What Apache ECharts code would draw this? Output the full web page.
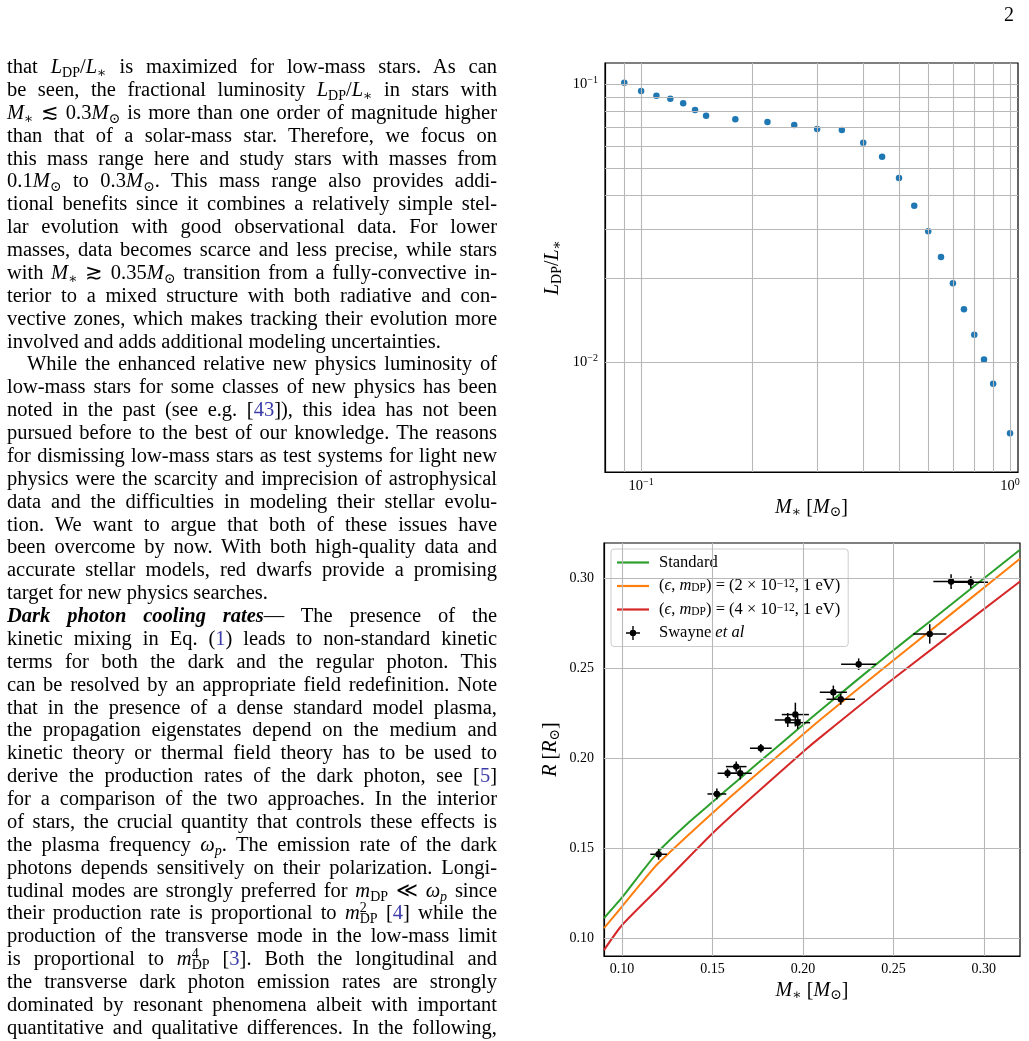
<!DOCTYPE html>
<html>
<head>
<meta charset="utf-8">
<script src="https://cdn.jsdelivr.net/npm/echarts@6/dist/echarts.min.js"></script>
<style>
  html, body { margin:0; padding:0; background:#fff; }
  body { width:1029px; height:1041px; position:relative; overflow:hidden; }
  #chart { position:absolute; left:0; top:0; width:1029px; height:1041px; }
  .col { position:absolute; left:7px; top:55px; width:490px; font-family:'Liberation Serif', 'DejaVu Serif', serif; font-size:20.5px; line-height:22.88px; color:#000; }
  .l { height:22.88px; text-align:justify; text-align-last:justify; white-space:nowrap; }
  .l.last { text-align:left; text-align-last:left; }
  .l.ind { text-indent:20px; }
  sub { font-size:14px; vertical-align:-4px; line-height:0; font-style:normal; }
  sup { font-size:14px; vertical-align:7px; line-height:0; font-style:normal; }
  .ref { color:#3b3ba8; }
  .pg { position:absolute; left:1004px; top:3px; font-family:'Liberation Serif', serif; font-size:20px; }
</style>
</head>
<body>
<div id="chart"></div>
<div class="pg">2</div>
<div class="col">
<div class="l">that <i>L</i><sub>DP</sub>/<i>L</i><sub>∗</sub> is maximized for low-mass stars. As can</div>
<div class="l">be seen, the fractional luminosity <i>L</i><sub>DP</sub>/<i>L</i><sub>∗</sub> in stars with</div>
<div class="l"><i>M</i><sub>∗</sub> ≲ 0.3<i>M</i><sub>⊙</sub> is more than one order of magnitude higher</div>
<div class="l">than that of a solar-mass star. Therefore, we focus on</div>
<div class="l">this mass range here and study stars with masses from</div>
<div class="l">0.1<i>M</i><sub>⊙</sub> to 0.3<i>M</i><sub>⊙</sub>. This mass range also provides addi-</div>
<div class="l">tional benefits since it combines a relatively simple stel-</div>
<div class="l">lar evolution with good observational data. For lower</div>
<div class="l">masses, data becomes scarce and less precise, while stars</div>
<div class="l">with <i>M</i><sub>∗</sub> ≳ 0.35<i>M</i><sub>⊙</sub> transition from a fully-convective in-</div>
<div class="l">terior to a mixed structure with both radiative and con-</div>
<div class="l">vective zones, which makes tracking their evolution more</div>
<div class="l last">involved and adds additional modeling uncertainties.</div>
<div class="l ind">While the enhanced relative new physics luminosity of</div>
<div class="l">low-mass stars for some classes of new physics has been</div>
<div class="l">noted in the past (see e.g. [<span class="ref">43</span>]), this idea has not been</div>
<div class="l">pursued before to the best of our knowledge. The reasons</div>
<div class="l">for dismissing low-mass stars as test systems for light new</div>
<div class="l">physics were the scarcity and imprecision of astrophysical</div>
<div class="l">data and the difficulties in modeling their stellar evolu-</div>
<div class="l">tion. We want to argue that both of these issues have</div>
<div class="l">been overcome by now. With both high-quality data and</div>
<div class="l">accurate stellar models, red dwarfs provide a promising</div>
<div class="l last">target for new physics searches.</div>
<div class="l"><b><i>Dark photon cooling rates</i></b>— The presence of the</div>
<div class="l">kinetic mixing in Eq. (<span class="ref">1</span>) leads to non-standard kinetic</div>
<div class="l">terms for both the dark and the regular photon. This</div>
<div class="l">can be resolved by an appropriate field redefinition. Note</div>
<div class="l">that in the presence of a dense standard model plasma,</div>
<div class="l">the propagation eigenstates depend on the medium and</div>
<div class="l">kinetic theory or thermal field theory has to be used to</div>
<div class="l">derive the production rates of the dark photon, see [<span class="ref">5</span>]</div>
<div class="l">for a comparison of the two approaches. In the interior</div>
<div class="l">of stars, the crucial quantity that controls these effects is</div>
<div class="l">the plasma frequency <i>ω</i><sub><i>p</i></sub>. The emission rate of the dark</div>
<div class="l">photons depends sensitively on their polarization. Longi-</div>
<div class="l">tudinal modes are strongly preferred for <i>m</i><sub>DP</sub> ≪ <i>ω</i><sub><i>p</i></sub> since</div>
<div class="l">their production rate is proportional to <i>m</i><sup>2</sup><sub style="margin-left:-7px">DP</sub> [<span class="ref">4</span>] while the</div>
<div class="l">production of the transverse mode in the low-mass limit</div>
<div class="l">is proportional to <i>m</i><sup>4</sup><sub style="margin-left:-7px">DP</sub> [<span class="ref">3</span>]. Both the longitudinal and</div>
<div class="l">the transverse dark photon emission rates are strongly</div>
<div class="l">dominated by resonant phenomena albeit with important</div>
<div class="l">quantitative and qualitative differences. In the following,</div>
</div>
<script>
// ---------- Top panel: fractional dark-photon luminosity ----------
const lumMass  = [0.09,0.10,0.11,0.12,0.13,0.14,0.15,0.18,0.22,0.26,0.30,0.35,0.40,0.45,0.50,0.55,0.60,0.65,0.70,0.75,0.80,0.85,0.90,1.00];
const lumRatio = [0.1013,0.0946,0.0910,0.0887,0.0854,0.0808,0.0771,0.0748,0.0732,0.0714,0.0690,0.0685,0.0616,0.0548,0.0460,0.0365,0.0296,0.0239,0.0192,0.0155,0.01254,0.01022,0.00835,0.00554];
const topXGrid = [0.09,0.1,0.2,0.3,0.4,0.5,0.6,0.7,0.8,0.9,1.0];
const topYGrid = [0.005,0.006,0.007,0.008,0.009,0.01,0.02,0.03,0.04,0.05,0.06,0.07,0.08,0.09,0.1];

// ---------- Bottom panel: mass-radius ----------
const stdMass   = [0.09,0.10,0.11,0.12,0.135,0.15,0.165,0.185,0.21,0.248,0.27,0.32];
const stdRadius = [0.111,0.1225,0.1355,0.148,0.1625,0.1755,0.1885,0.2055,0.2268,0.2582,0.2757,0.3157];
const dp2Mass   = [0.09,0.10,0.11,0.12,0.158,0.19,0.2094,0.248,0.32];
const dp2Radius = [0.1055,0.1175,0.1298,0.1415,0.1767,0.2044,0.2211,0.2526,0.3106];
const dp4Mass   = [0.09,0.10,0.12,0.15,0.17,0.2012,0.2094,0.248,0.32];
const dp4Radius = [0.0933,0.1072,0.1275,0.1582,0.1767,0.2044,0.2113,0.2425,0.298];
const swayneMass      = [0.2819,0.2928,0.2701,0.2308,0.2168,0.2209,0.1958,0.1916,0.1971,0.1767,0.1631,0.1583,0.1653,0.1524,0.1202];
const swayneMassErr   = [0.0098,0.0095,0.0092,0.0097,0.0075,0.0079,0.0075,0.0072,0.0069,0.0060,0.0057,0.0055,0.0064,0.0052,0.0046];
const swayneRadius    = [0.2980,0.2976,0.2689,0.2521,0.2365,0.2326,0.2241,0.2211,0.2196,0.2054,0.1952,0.1915,0.1915,0.1800,0.1465];
const swayneRadiusErr = [0.0041,0.0033,0.0054,0.0032,0.0037,0.0030,0.0066,0.0039,0.0035,0.0024,0.0028,0.0026,0.0034,0.0030,0.0030];
const botTicks = [0.10,0.15,0.20,0.25,0.30];

const FONT = "'Liberation Serif', 'DejaVu Serif', serif";
const GRIDCOL = '#b8b8b8';
const pairs = (xs, ys) => xs.map((x, i) => [x, ys[i]]);

const nameRich = {
  i: { fontFamily: FONT, fontSize: 20, fontStyle: 'italic', lineHeight: 22, verticalAlign: 'middle', color: '#000' },
  t: { fontFamily: FONT, fontSize: 20, lineHeight: 22, verticalAlign: 'middle', color: '#000' },
  s: { fontFamily: FONT, fontSize: 14, lineHeight: 10, verticalAlign: 'bottom', color: '#000' }
};
const powRich = {
  b: { fontFamily: FONT, fontSize: 14.5, lineHeight: 18, verticalAlign: 'middle', color: '#000' },
  e: { fontFamily: FONT, fontSize: 10, lineHeight: 9, verticalAlign: 'top', color: '#000' }
};
const powFmt = v => { const e = Math.round(Math.log10(v)); return '{b|10}{e|' + (e < 0 ? '\u2212' : '') + Math.abs(e) + '}'; };

function gridLines(xs, ys) {
  return {
    silent: true, symbol: ['none', 'none'], animation: false,
    label: { show: false },
    lineStyle: { color: GRIDCOL, width: 1.1, type: 'solid' },
    emphasis: { disabled: true },
    data: xs.map(v => ({ xAxis: v })).concat(ys.map(v => ({ yAxis: v })))
  };
}

const legendNames = {
  'Standard': '{t|Standard}',
  'dp2': '{t|(}{i|\u03f5}{t|, }{i|m}{s|DP}{t|) = (2 \u00d7 10}{p|\u221212}{t|, 1 eV)}',
  'dp4': '{t|(}{i|\u03f5}{t|, }{i|m}{s|DP}{t|) = (4 \u00d7 10}{p|\u221212}{t|, 1 eV)}',
  'Swayne': '{t|Swayne }{i|et al}'
};
const LINE_ICON = 'path://M0,0h32v2.2h-32z';
const ERR_ICON = 'path://M0,6.3h14v1.4h-14z M6.3,0h1.4v14h-1.4z M3.8,7a3.2,3.2 0 1,1 6.4,0a3.2,3.2 0 1,1 -6.4,0z';

const chart = echarts.init(document.getElementById('chart'), null, { renderer: 'canvas' });
chart.setOption({
  animation: false,
  textStyle: { fontFamily: FONT },
  grid: [
    { left: 605, top: 63, width: 413, height: 409, show: true, borderColor: '#000', borderWidth: 1.2, backgroundColor: 'transparent' },
    { left: 604, top: 543, width: 416, height: 413, show: true, borderColor: '#000', borderWidth: 1.2, backgroundColor: 'transparent' }
  ],
  xAxis: [
    {
      type: 'log', gridIndex: 0, logBase: 10, min: 0.0798, max: 1.051,
      axisLine: { lineStyle: { color: '#000', width: 1.2 } },
      axisTick: { inside: true, length: 6, lineStyle: { color: '#000' } },
      splitLine: { show: false },
      axisLabel: { formatter: powFmt, rich: powRich, margin: 5, showMinLabel: false, showMaxLabel: false },
      name: '{i|M}{s|\u2217}{t| [}{i|M}{s|\u2299}{t|]}',
      nameLocation: 'middle', nameGap: 25, nameTextStyle: { rich: nameRich }
    },
    {
      type: 'value', gridIndex: 1, min: 0.09, max: 0.32,
      axisLine: { lineStyle: { color: '#000', width: 1.2 } },
      axisTick: { inside: true, length: 6, customValues: botTicks, lineStyle: { color: '#000' } },
      splitLine: { show: false },
      axisLabel: { customValues: botTicks, formatter: v => v.toFixed(2), fontFamily: FONT, fontSize: 14, color: '#000', margin: 6 },
      name: '{i|M}{s|\u2217}{t| [}{i|M}{s|\u2299}{t|]}',
      nameLocation: 'middle', nameGap: 24, nameTextStyle: { rich: nameRich }
    }
  ],
  yAxis: [
    {
      type: 'log', gridIndex: 0, logBase: 10, min: 0.00402, max: 0.1193,
      axisLine: { lineStyle: { color: '#000', width: 1.2 } },
      axisTick: { inside: true, length: 6, lineStyle: { color: '#000' } },
      splitLine: { show: false },
      axisLabel: { formatter: powFmt, rich: powRich, margin: 7, showMinLabel: false, showMaxLabel: false },
      name: '{i|L}{s|DP}{t|/}{i|L}{s|\u2217}',
      nameLocation: 'middle', nameRotate: 90, nameGap: 41, nameTextStyle: { rich: nameRich }
    },
    {
      type: 'value', gridIndex: 1, min: 0.09, max: 0.3194,
      axisLine: { lineStyle: { color: '#000', width: 1.2 } },
      axisTick: { inside: true, length: 6, customValues: botTicks, lineStyle: { color: '#000' } },
      splitLine: { show: false },
      axisLabel: { customValues: botTicks, formatter: v => v.toFixed(2), fontFamily: FONT, fontSize: 14, color: '#000', margin: 10 },
      name: '{i|R}{t| [}{i|R}{s|\u2299}{t|]}',
      nameLocation: 'middle', nameRotate: 90, nameGap: 42, nameTextStyle: { rich: nameRich }
    }
  ],
  legend: {
    show: true, orient: 'vertical', left: 611, top: 549,
    data: [
      { name: 'Standard', icon: LINE_ICON, itemStyle: { color: '#2ca02c' } },
      { name: 'dp2', icon: LINE_ICON, itemStyle: { color: '#ff7f0e' } },
      { name: 'dp4', icon: LINE_ICON, itemStyle: { color: '#d62728' } },
      { name: 'Swayne', icon: ERR_ICON, itemStyle: { color: '#000', borderWidth: 0 } }
    ],
    itemWidth: 32, itemHeight: 14, itemGap: 6.5,
    padding: [5, 8, 5, 6],
    backgroundColor: 'rgba(255,255,255,0.85)', borderColor: '#cccccc', borderWidth: 1, borderRadius: 3,
    selectedMode: false,
    formatter: n => legendNames[n],
    textStyle: {
      padding: [0, 0, 0, 5],
      rich: {
        t: { fontFamily: FONT, fontSize: 16.5, lineHeight: 16, verticalAlign: 'middle', color: '#000' },
        i: { fontFamily: FONT, fontSize: 16.5, fontStyle: 'italic', lineHeight: 16, verticalAlign: 'middle', color: '#000' },
        s: { fontFamily: FONT, fontSize: 11.5, lineHeight: 8, verticalAlign: 'bottom', color: '#000' },
        p: { fontFamily: FONT, fontSize: 11.5, lineHeight: 8, verticalAlign: 'top', color: '#000' }
      }
    }
  },
  series: [
    { name: 'grid0', type: 'line', xAxisIndex: 0, yAxisIndex: 0, data: [], z: 1, markLine: gridLines(topXGrid, topYGrid) },
    {
      name: 'ratio', type: 'scatter', xAxisIndex: 0, yAxisIndex: 0, z: 3,
      symbolSize: 6.5, itemStyle: { color: '#1f77b4', opacity: 1 },
      data: pairs(lumMass, lumRatio)
    },
    { name: 'grid1', type: 'line', xAxisIndex: 1, yAxisIndex: 1, data: [], z: 1, markLine: gridLines(botTicks, botTicks) },
    {
      name: 'Standard', type: 'line', xAxisIndex: 1, yAxisIndex: 1, z: 3, symbol: 'none',
      smooth: 0.2, clip: true,
      lineStyle: { color: '#2ca02c', width: 2 }, itemStyle: { color: '#2ca02c' },
      data: pairs(stdMass, stdRadius)
    },
    {
      name: 'dp2', type: 'line', xAxisIndex: 1, yAxisIndex: 1, z: 3, symbol: 'none',
      smooth: 0.2, clip: true,
      lineStyle: { color: '#ff7f0e', width: 2 }, itemStyle: { color: '#ff7f0e' },
      data: pairs(dp2Mass, dp2Radius)
    },
    {
      name: 'dp4', type: 'line', xAxisIndex: 1, yAxisIndex: 1, z: 3, symbol: 'none',
      smooth: 0.2, clip: true,
      lineStyle: { color: '#d62728', width: 2 }, itemStyle: { color: '#d62728' },
      data: pairs(dp4Mass, dp4Radius)
    },
    {
      name: 'Swayne', type: 'custom', coordinateSystem: 'cartesian2d', xAxisIndex: 1, yAxisIndex: 1, z: 4,
      itemStyle: { color: '#000' },
      encode: { x: 0, y: 1 },
      data: swayneMass.map((m, i) => [m, swayneRadius[i], swayneMassErr[i], swayneRadiusErr[i]]),
      renderItem: function (params, api) {
        const x = api.value(0), y = api.value(1), ex = api.value(2), ey = api.value(3);
        const c = api.coord([x, y]);
        const l = api.coord([x - ex, y]), r = api.coord([x + ex, y]);
        const t = api.coord([x, y + ey]), b = api.coord([x, y - ey]);
        const st = { stroke: '#000', lineWidth: 1.5 };
        return {
          type: 'group', children: [
            { type: 'line', shape: { x1: l[0], y1: l[1], x2: r[0], y2: r[1] }, style: st },
            { type: 'line', shape: { x1: t[0], y1: t[1], x2: b[0], y2: b[1] }, style: st },
            { type: 'circle', shape: { cx: c[0], cy: c[1], r: 3.2 }, style: { fill: '#000' } }
          ]
        };
      }
    }
  ]
});
</script>
</body>
</html>
